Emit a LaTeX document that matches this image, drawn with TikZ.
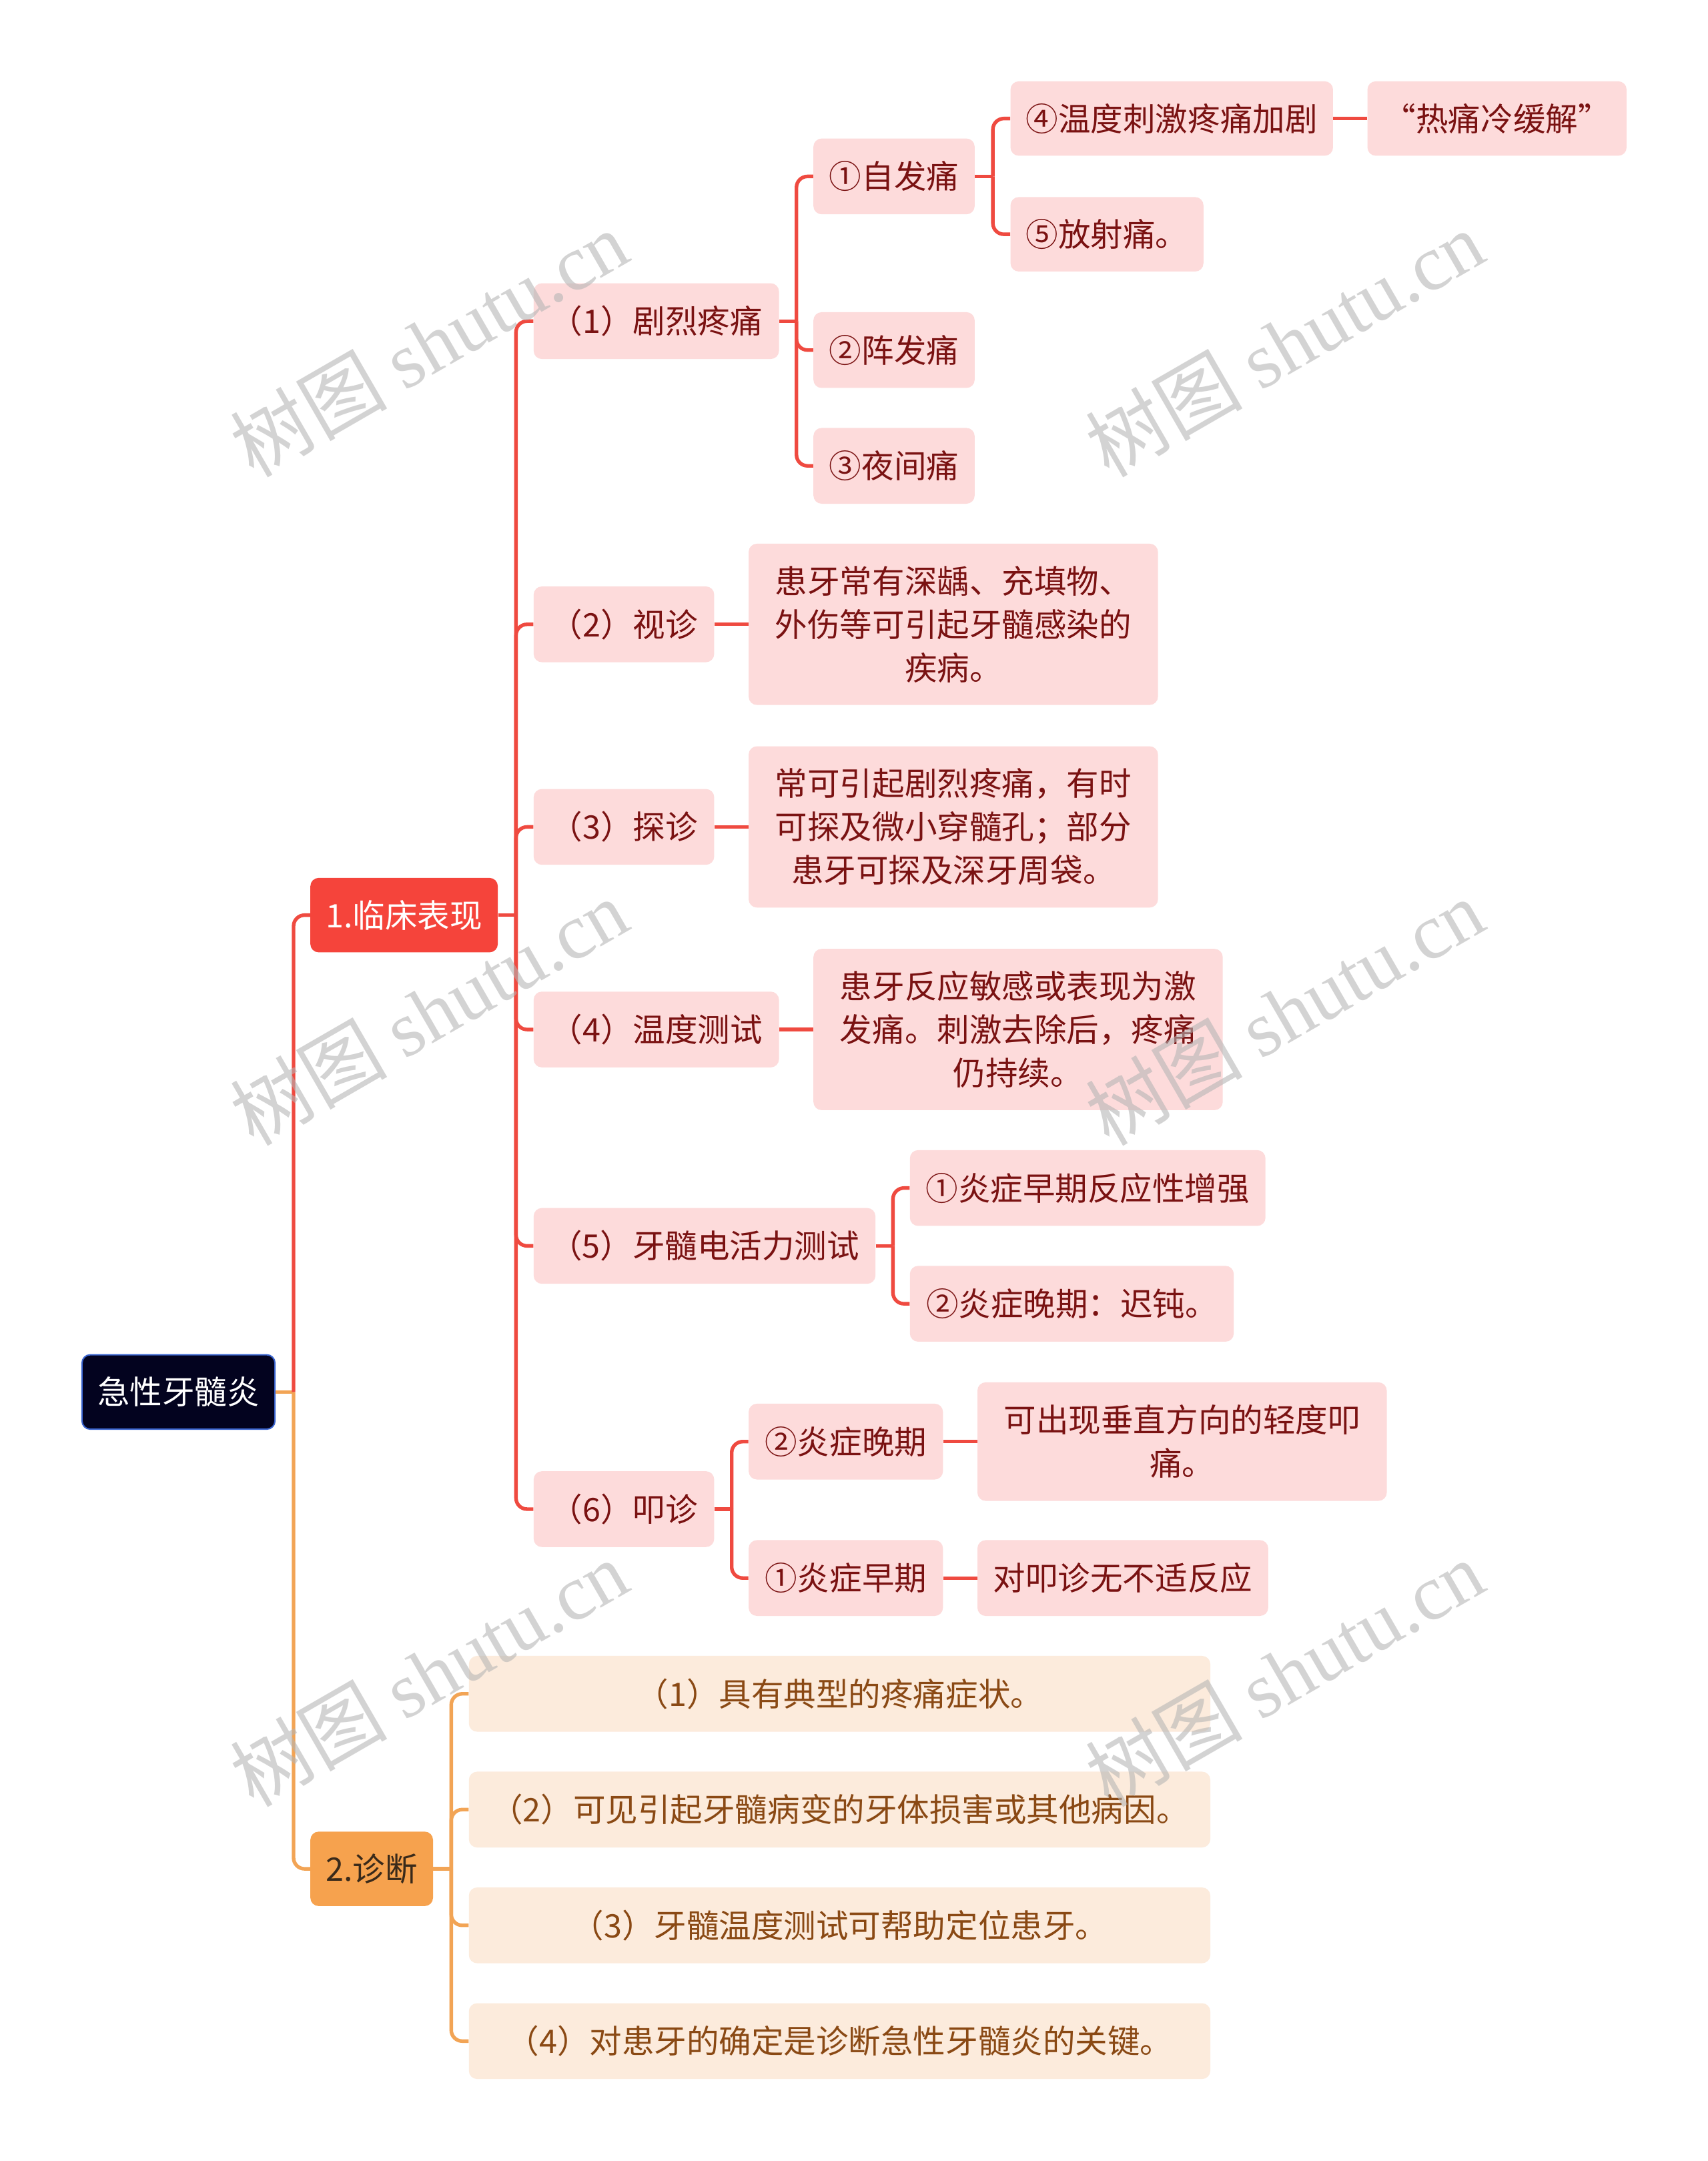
\documentclass[tikz,border=0pt]{standalone}
\usepackage{fontspec}
\setmainfont{Noto Sans CJK SC}
\newfontfamily\wmserif{Liberation Serif}
\newfontfamily\wmcjk{Noto Sans CJK SC}
\definecolor{lnred}{HTML}{EF4A40}
\definecolor{lnorange}{HTML}{F2A455}
\definecolor{fillred}{HTML}{F5443B}
\definecolor{fillorange}{HTML}{F6A24E}
\definecolor{pinkfill}{HTML}{FDDBDB}
\definecolor{peachfill}{HTML}{FCEBDC}
\definecolor{darkredtext}{HTML}{7A1212}
\definecolor{diagtext}{HTML}{8A4914}
\definecolor{rootfill}{HTML}{03031F}
\definecolor{rootborder}{HTML}{3A64CF}
\definecolor{wmgray}{HTML}{B4B4B4}
\definecolor{dtext}{HTML}{3A2A1A}
\begin{document}
\begin{tikzpicture}[x=1pt,y=-1pt,
  box/.style={rounded corners=6pt, inner sep=0pt, minimum height=55pt, anchor=west,
    font=\fontsize{23.5}{31.5}\selectfont, align=center},
  pinkbox/.style={box, fill=pinkfill, text=darkredtext},
  peachbox/.style={box, fill=peachfill, text=diagtext},
  redln/.style={draw=lnred, line width=2.6pt},
  orgln/.style={draw=lnorange, line width=2.6pt},
  rc/.style={rounded corners=8pt},
  wm/.style={text=wmgray, opacity=0.58, rotate=30, inner sep=0pt,
    font=\fontsize{57}{64}\selectfont}]
\fill[white] (0,0) rectangle (1239,1568);
\useasboundingbox (0,0) rectangle (1239,1568);

% root and level 1
\node[box, fill=rootfill, draw=rootborder, line width=1pt, text=white, minimum width=140pt, minimum height=54pt] (root) at (59,1010) {急性牙髓炎};
\node[box, fill=fillred, text=white, minimum width=136pt, minimum height=54pt] (L1) at (225,664) {1.临床表现};
\node[box, fill=fillorange, text=dtext, minimum width=89pt, minimum height=54pt] (L2) at (225,1356) {2.诊断};

% level 2 under L1
\node[pinkbox, minimum width=178pt] (a1) at (387,233) {（1）剧烈疼痛};
\node[pinkbox, minimum width=131pt] (a2) at (387,453) {（2）视诊};
\node[pinkbox, minimum width=131pt] (a3) at (387,600) {（3）探诊};
\node[pinkbox, minimum width=178pt] (a4) at (387,747) {（4）温度测试};
\node[pinkbox, minimum width=248pt] (a5) at (387,904) {（5）牙髓电活力测试};
\node[pinkbox, minimum width=131pt] (a6) at (387,1095) {（6）叩诊};

% level 3
\node[pinkbox, minimum width=117pt] (b1) at (590,128) {①自发痛};
\node[pinkbox, minimum width=117pt] (b2) at (590,254) {②阵发痛};
\node[pinkbox, minimum width=117pt] (b3) at (590,338) {③夜间痛};
\node[pinkbox, minimum width=234pt, minimum height=54pt] (c1) at (733,86) {④温度刺激疼痛加剧};
\node[pinkbox, minimum width=140pt, minimum height=54pt] (c2) at (733,170) {⑤放射痛。};
\node[pinkbox, minimum width=188pt, minimum height=54pt] (d1) at (992,86) {“热痛冷缓解”};

\node[pinkbox, minimum width=297pt, minimum height=117pt] (v2) at (543,453) {患牙常有深龋、充填物、\\外伤等可引起牙髓感染的\\疾病。};
\node[pinkbox, minimum width=297pt, minimum height=117pt] (v3) at (543,600) {常可引起剧烈疼痛，有时\\可探及微小穿髓孔；部分\\患牙可探及深牙周袋。};
\node[pinkbox, minimum width=297pt, minimum height=117pt] (v4) at (590,747) {患牙反应敏感或表现为激\\发痛。刺激去除后，疼痛\\仍持续。};

\node[pinkbox, minimum width=258pt] (e1) at (660,862) {①炎症早期反应性增强};
\node[pinkbox, minimum width=235pt] (e2) at (660,946) {②炎症晚期：迟钝。};

\node[pinkbox, minimum width=141pt] (f1) at (543,1046) {②炎症晚期};
\node[pinkbox, minimum width=141pt] (f2) at (543,1145) {①炎症早期};
\node[pinkbox, minimum width=297pt, minimum height=86pt] (g1) at (709,1046) {可出现垂直方向的轻度叩\\痛。};
\node[pinkbox, minimum width=211pt] (g2) at (709,1145) {对叩诊无不适反应};

% diagnosis
\node[peachbox, minimum width=538pt] (h1) at (340,1229) {（1）具有典型的疼痛症状。};
\node[peachbox, minimum width=538pt] (h2) at (340,1313) {（2）可见引起牙髓病变的牙体损害或其他病因。};
\node[peachbox, minimum width=538pt] (h3) at (340,1397) {（3）牙髓温度测试可帮助定位患牙。};
\node[peachbox, minimum width=538pt] (h4) at (340,1481) {（4）对患牙的确定是诊断急性牙髓炎的关键。};

% connectors
\draw[orgln] (root.east) -- ++(13,0) coordinate (j0);
\draw[orgln,rc] (j0) |- (L2.west);
\draw[redln,rc] (j0) |- (L1.west);

\draw[redln] (L1.east) -- ++(13,0) coordinate (j1);
\foreach \n in {a1,a2,a3,a4,a5,a6} \draw[redln,rc] (j1) |- (\n.west);

\draw[redln] (a1.east) -- ++(12.5,0) coordinate (j2);
\foreach \n in {b1,b2,b3} \draw[redln,rc] (j2) |- (\n.west);

\draw[redln] (b1.east) -- ++(13,0) coordinate (j3);
\foreach \n in {c1,c2} \draw[redln,rc] (j3) |- (\n.west);
\draw[redln] (c1.east) -- (d1.west);

\draw[redln] (a2.east) -- (v2.west);
\draw[redln] (a3.east) -- (v3.west);
\draw[redln] (a4.east) -- (v4.west);

\draw[redln] (a5.east) -- ++(12.5,0) coordinate (j4);
\foreach \n in {e1,e2} \draw[redln,rc] (j4) |- (\n.west);

\draw[redln] (a6.east) -- ++(12.5,0) coordinate (j5);
\foreach \n in {f1,f2} \draw[redln,rc] (j5) |- (\n.west);
\draw[redln] (f1.east) -- (g1.west);
\draw[redln] (f2.east) -- (g2.west);

\draw[orgln] (L2.east) -- ++(13,0) coordinate (j6);
\foreach \n in {h1,h2,h3,h4} \draw[orgln,rc] (j6) |- (\n.west);

% watermarks
\node[wm] (wm1) at (311,249) {\wmcjk 树图 {\wmserif shutu.cn}};
\node[wm] (wm2) at (932,249) {\wmcjk 树图 {\wmserif shutu.cn}};
\node[wm] (wm3) at (311,734) {\wmcjk 树图 {\wmserif shutu.cn}};
\node[wm] (wm4) at (932,734) {\wmcjk 树图 {\wmserif shutu.cn}};
\node[wm] (wm5) at (311,1214) {\wmcjk 树图 {\wmserif shutu.cn}};
\node[wm] (wm6) at (932,1214) {\wmcjk 树图 {\wmserif shutu.cn}};
\end{tikzpicture}
\end{document}
